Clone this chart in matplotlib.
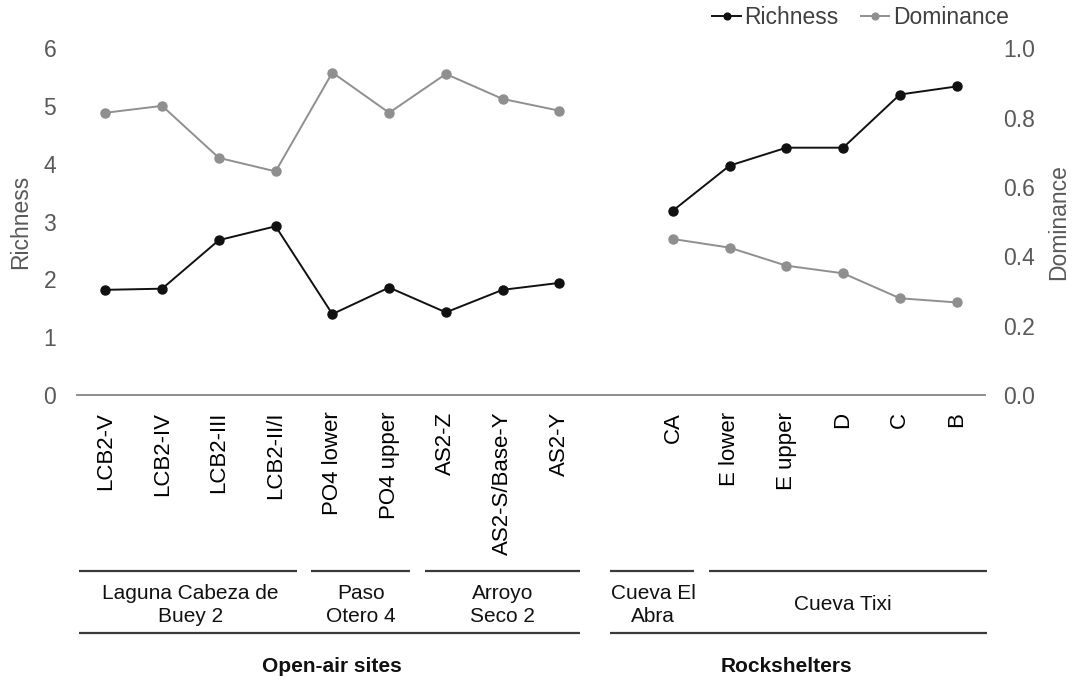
import numpy as np
import matplotlib
matplotlib.use("Agg")
import matplotlib.pyplot as plt
from matplotlib.transforms import blended_transform_factory

plt.rcParams['font.family'] = ['Liberation Sans', 'DejaVu Sans']

categories = ["LCB2-V", "LCB2-IV", "LCB2-III", "LCB2-II/I", "PO4 lower", "PO4 upper",
              "AS2-Z", "AS2-S/Base-Y", "AS2-Y", "", "CA", "E lower", "E upper", "D", "C", "B"]
richness = [1.82, 1.84, 2.68, 2.92, 1.40, 1.86, 1.43, 1.82, 1.94, np.nan,
            3.19, 3.97, 4.28, 4.28, 5.20, 5.34]
dominance = [0.814, 0.834, 0.684, 0.645, 0.930, 0.814, 0.926, 0.854, 0.820, np.nan,
             0.450, 0.425, 0.373, 0.351, 0.279, 0.267]
sites = [("Laguna Cabeza de\nBuey 2", 0, 3), ("Paso\nOtero 4", 4, 5),
         ("Arroyo\nSeco 2", 6, 8), ("Cueva El\nAbra", 9, 10), ("Cueva Tixi", 11, 15)]
site_types = [("Open-air sites", 0, 8), ("Rockshelters", 9, 15)]

W, H = 1078, 680
fig = plt.figure(figsize=(W / 100, H / 100), dpi=100)
x0, x1, ytop, ybot = 77, 985, 48.3, 395
ax = fig.add_axes([x0 / W, 1 - ybot / H, (x1 - x0) / W, (ybot - ytop) / H])
ax2 = ax.twinx()

x = np.arange(len(categories))
rich_c = '#111111'
dom_c = '#8f8f8f'
l1, = ax.plot(x, richness, color=rich_c, lw=1.4, marker='o', ms=6.5, label='Richness', zorder=3)
l2, = ax2.plot(x, dominance, color=dom_c, lw=1.4, marker='o', ms=6.5, label='Dominance', zorder=3)

xmin, xmax = -0.5, len(categories) - 0.5
ax.set_xlim(xmin, xmax)
ax.set_ylim(0, 6)
ax2.set_ylim(0, 1.0)
ax.set_yticks(range(0, 7))
ax2.set_yticks(np.arange(0, 1.01, 0.2))
ax2.set_yticklabels([f"{v:.1f}" for v in np.arange(0, 1.01, 0.2)])
ax.set_xticks(x)
ax.set_xticklabels(categories, rotation=90, fontsize=16, color='black')

tick_grey = '#595959'
ax.tick_params(axis='y', length=0, pad=15, labelsize=16.5, labelcolor=tick_grey)
ax2.tick_params(axis='y', length=0, pad=13, labelsize=16.5, labelcolor=tick_grey)
ax.tick_params(axis='x', length=0, pad=12)

for s in ['top', 'left', 'right']:
    ax.spines[s].set_visible(False)
for s in ['top', 'left', 'right', 'bottom']:
    ax2.spines[s].set_visible(False)
ax.spines['bottom'].set_color('#858585')
ax.spines['bottom'].set_linewidth(1.3)

ax.set_ylabel('Richness', fontsize=16.5, color=tick_grey, labelpad=8)
ax2.set_ylabel('Dominance', fontsize=16.5, color=tick_grey, labelpad=9)

leg = fig.legend(handles=[l1, l2], loc='center right',
                 bbox_to_anchor=(1020 / W, 1 - 18 / H), ncol=2, frameon=False,
                 fontsize=16.5, handlelength=1.25, handletextpad=0.15,
                 columnspacing=0.95, borderpad=0, markerscale=0.75)
for t in leg.get_texts():
    t.set_color('#404040')

tr = blended_transform_factory(ax.transData, fig.transFigure)
gap = 0.13
line_c = '#3a3a3a'
y_l1 = 1 - 571 / H
y_l2 = 1 - 633 / H


def span(a, b):
    lo = a - 0.5 + gap if a > 0 else xmin + 0.04
    if categories[a] == "":
        lo = a - 0.1
    hi = b + 0.5 - gap if b < len(categories) - 1 else xmax + 0.03
    return lo, hi


for label, a, b in sites:
    lo, hi = span(a, b)
    ax.plot([lo, hi], [y_l1, y_l1], transform=tr,
            color=line_c, lw=1.6, clip_on=False, solid_capstyle='butt')
    ax.text((a + b) / 2 + (0.15 if categories[a] == "" else 0), 1 - 605 / H, label,
            transform=tr, ha='center', va='center',
            fontsize=15, color='#111111', linespacing=1.25)
for label, a, b in site_types:
    lo, hi = span(a, b)
    ax.plot([lo, hi], [y_l2, y_l2], transform=tr,
            color=line_c, lw=1.6, clip_on=False, solid_capstyle='butt')
    ax.text((a + b) / 2, 1 - 666 / H, label, transform=tr, ha='center', va='center',
            fontsize=15, fontweight='bold', color='#111111')

fig.savefig('out.png', dpi=100, facecolor='white')
